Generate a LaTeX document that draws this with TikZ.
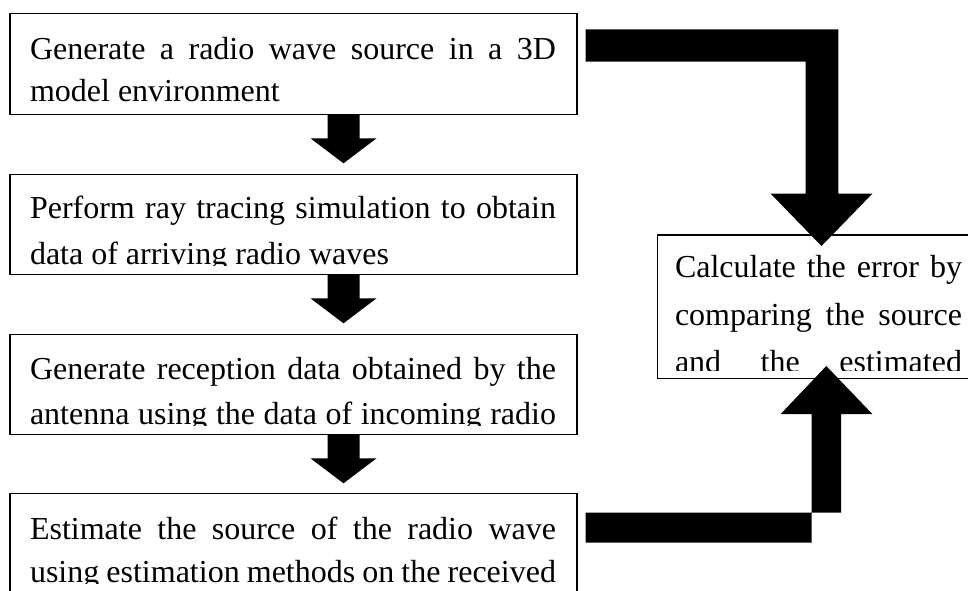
\documentclass[tikz,border=0pt]{standalone}
\usepackage{fontspec}
\setmainfont{Liberation Serif}
\usetikzlibrary{calc}

% a line set to a given width, its interword spaces stretched evenly
\newcommand\justline[2]{\hbox to #1{\spaceskip=\fontdimen2\font plus 1fil minus 0.4\fontdimen2\font\relax #2}}

\begin{document}
\begin{tikzpicture}[x=1pt,y=1pt,
  stepbox/.style={draw=black, line width=1.2pt, inner sep=0pt, outer sep=0pt, anchor=north west},
  txt/.style={inner sep=0pt, outer sep=0pt, anchor=base west, font=\fontsize{32}{40}\selectfont},
  blk/.style={fill=black, draw=none}]
\clip (0,0) rectangle (968,-590);
\fill[white] (0,0) rectangle (968,-590);

% process boxes
\node[stepbox, minimum width=567pt, minimum height=101pt] (b1) at (10,-13.3) {};
\node[stepbox, minimum width=567pt, minimum height=100pt] (b2) at (10,-174.3) {};
\node[stepbox, minimum width=567pt, minimum height=100pt] (b3) at (10,-334.3) {};
\node[stepbox, minimum width=567pt, minimum height=100pt] (b4) at (10,-493.3) {};
\node[stepbox, minimum width=340pt, minimum height=143.3pt] (b5) at (657.3,-235) {};

% texts, cut off at the lower inner edge of each box
\begin{scope}
\clip ($(b1.north west)+(0.6,-0.6)$) rectangle ($(b1.north east)+(-0.6,-92)$);
\node[txt] (t1a) at ($(b1.north west)+(20,-46)$) {\justline{526pt}{Generate a radio wave source in a 3D}};
\node[txt] (t1b) at ($(b1.north west)+(20,-88.5)$) {model environment};
\end{scope}

\begin{scope}
\clip ($(b2.north west)+(0.6,-0.6)$) rectangle ($(b2.north east)+(-0.6,-91)$);
\node[txt] (t2a) at ($(b2.north west)+(20,-44.5)$) {\justline{526pt}{Perform ray tracing simulation to obtain}};
\node[txt] (t2b) at ($(b2.north west)+(20,-90)$) {data of arriving radio waves};
\end{scope}

\begin{scope}
\clip ($(b3.north west)+(0.6,-0.6)$) rectangle ($(b3.north east)+(-0.6,-91)$);
\node[txt] (t3a) at ($(b3.north west)+(20,-45)$) {\justline{526pt}{Generate reception data obtained by the}};
\node[txt] (t3b) at ($(b3.north west)+(20,-90)$) {\justline{526pt}{antenna using the data of incoming radio}};
\end{scope}

\begin{scope}
\clip ($(b4.north west)+(0.6,-0.6)$) rectangle ($(b4.north east)+(-0.6,-90.5)$);
\node[txt] (t4a) at ($(b4.north west)+(20,-46)$) {\justline{526pt}{Estimate the source of the radio wave}};
\node[txt] (t4b) at ($(b4.north west)+(20,-89.5)$) {\justline{526pt}{using estimation methods on the received}};
\end{scope}

\begin{scope}
\clip ($(b5.north west)+(0.6,-0.6)$) rectangle ($(b5.north west)+(320,-135.5)$);
\node[txt] (t5a) at ($(b5.north west)+(17.7,-42.7)$) {\justline{287pt}{Calculate the error by}};
\node[txt] (t5b) at ($(b5.north west)+(17.7,-90)$) {\justline{287pt}{comparing the source}};
\node[txt] (t5c) at ($(b5.north west)+(17.7,-137)$) {\justline{287pt}{and the estimated}};
\end{scope}

% block arrows between the steps
\fill[blk] (b1.south west) ++(317.5,0) -- ++(32,0) -- ++(0,-24) -- ++(17,0) -- ++(-33,-25) -- ++(-33,25) -- ++(17,0) -- cycle;
\fill[blk] (b2.south west) ++(317.5,0) -- ++(32,0) -- ++(0,-24) -- ++(17,0) -- ++(-33,-25) -- ++(-33,25) -- ++(17,0) -- cycle;
\fill[blk] (b3.south west) ++(317.5,0) -- ++(32,0) -- ++(0,-24) -- ++(17,0) -- ++(-33,-25) -- ++(-33,25) -- ++(17,0) -- cycle;

% elbow arrow from the first step to the error box
\coordinate (e1s) at ($(b1.north east)+(8.7,-16)$);
\coordinate (e1t) at ($(b5.north west)+(164.2,-11)$);
\fill[blk] let \p1=(e1s), \p2=(e1t) in
  (\x1,\y1) -- (\x2+16.8pt,\y1) -- (\x2+16.8pt,\y2+52.3pt) -- (\x2+50.8pt,\y2+52.3pt)
  -- (\x2,\y2) -- (\x2-50.8pt,\y2+52.3pt) -- (\x2-15.8pt,\y2+52.3pt)
  -- (\x2-15.8pt,\y1-32.4pt) -- (\x1,\y1-32.4pt) -- cycle;

% elbow arrow from the estimation step up to the error box
\coordinate (e2s) at ($(b4.north east)+(8.7,-19.4)$);
\coordinate (e2t) at ($(b5.south west)+(169,12.3)$);
\fill[blk] let \p1=(e2s), \p2=(e2t) in
  (\x1,\y1) -- (\x2+14.7pt,\y1) -- (\x2+14.7pt,\y2-48pt) -- (\x2+46pt,\y2-48pt)
  -- (\x2,\y2) -- (\x2-45.6pt,\y2-48pt) -- (\x2-14.6pt,\y2-48pt)
  -- (\x2-14.6pt,\y1-30pt) -- (\x1,\y1-30pt) -- cycle;
\end{tikzpicture}
\end{document}
